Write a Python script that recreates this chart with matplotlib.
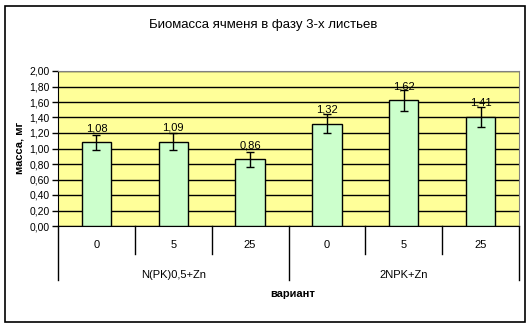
import numpy as np
import matplotlib.pyplot as plt
from matplotlib.patches import Rectangle
from matplotlib.ticker import FuncFormatter

plt.rcParams['font.family'] = ['Liberation Sans', 'DejaVu Sans']
plt.rcParams['font.size'] = 8

doses = ['0', '5', '25', '0', '5', '25']
groups = ['N(PK)0,5+Zn', '2NPK+Zn']
biomass = [1.08, 1.09, 0.86, 1.32, 1.62, 1.41]
biomass_err = [0.10, 0.11, 0.10, 0.12, 0.14, 0.13]
value_labels = ['1,08', '1,09', '0,86', '1,32', '1,62', '1,41']

W, H = 530, 329
fig = plt.figure(figsize=(W / 100, H / 100), dpi=100)
fig.patches.append(Rectangle((5 / W, 1 - 322 / H), 520 / W, 316 / H,
                             transform=fig.transFigure, fill=False,
                             edgecolor='black', linewidth=1.2))

ax = fig.add_axes([58 / W, 1 - 226 / H, (519 - 58) / W, (226 - 71) / H])
ax.set_facecolor('#ffff99')

x_pos = np.arange(len(doses)) + 0.5
ax.bar(x_pos, biomass, width=0.38, color='#ccffcc', edgecolor='black',
       linewidth=1, zorder=3)
ax.errorbar(x_pos, biomass, yerr=biomass_err, fmt='none', ecolor='black',
            elinewidth=1, capsize=3, capthick=1, zorder=4)
for x, v, lab in zip(x_pos, biomass, value_labels):
    ax.annotate(lab, (x, v), xytext=(0, 10), textcoords='offset points',
                ha='center', va='center', fontsize=8, zorder=5)

ax.set_xlim(0, 6)
ax.set_ylim(0, 2.0)
ax.set_yticks(np.arange(0, 2.01, 0.2))
ax.yaxis.set_major_formatter(FuncFormatter(lambda v, p: f'{v:.2f}'.replace('.', ',')))
ax.yaxis.grid(True, color='black', linewidth=1, zorder=0)
ax.set_axisbelow(True)
ax.set_xticks([])
ax.tick_params(axis='y', direction='out', length=4, width=1, pad=2, labelsize=7.5)

for s in ['top', 'right']:
    ax.spines[s].set_color('#808080')
ax.spines['left'].set_color('black')
ax.spines['bottom'].set_color('black')

# category table under the axis
h = 226 - 71
for i in range(1, 6):
    if i == 3:
        continue
    ax.plot([i, i], [0, -(254 - 226) / h], transform=ax.get_xaxis_transform(),
            color='black', linewidth=1, clip_on=False)
for i in [0, 3, 6]:
    ax.plot([i, i], [0, -(280 - 226) / h], transform=ax.get_xaxis_transform(),
            color='black', linewidth=1, clip_on=False)
for x, d in zip(x_pos, doses):
    ax.text(x, -(245 - 226) / h, d, transform=ax.get_xaxis_transform(),
            ha='center', va='center', fontsize=8)
for gi, g in enumerate(groups):
    ax.text(1.5 + 3 * gi, -(275 - 226) / h, g, transform=ax.get_xaxis_transform(),
            ha='center', va='center', fontsize=8)

fig.text(293 / W, 1 - 294 / H, 'вариант', ha='center', va='center',
         fontsize=8, fontweight='bold')
fig.text(20 / W, 1 - 148 / H, 'масса, мг', ha='center', va='center',
         fontsize=8, fontweight='bold', rotation=90)
fig.text(263 / W, 1 - 25 / H, 'Биомасса ячменя в фазу 3-х листьев',
         ha='center', va='center', fontsize=9.5)

plt.savefig('out.png', dpi=100)
